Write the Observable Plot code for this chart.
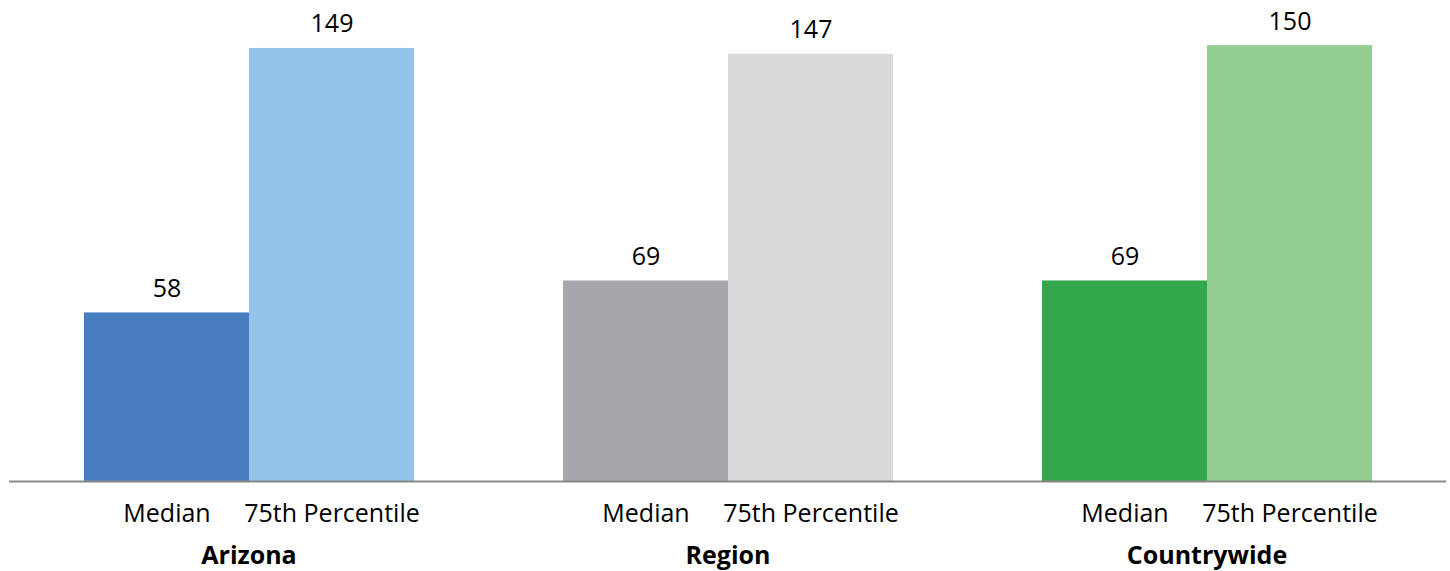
<!DOCTYPE html>
<html>
<head>
<meta charset="utf-8">
<script src="https://cdn.jsdelivr.net/npm/d3@7"></script>
<script src="https://cdn.jsdelivr.net/npm/@observablehq/plot@0.6"></script>
<style>
  html, body { margin: 0; padding: 0; background: #fff; }
</style>
</head>
<body>
<div id="chart"></div>
<script>
const groups = ["Arizona", "Region", "Countrywide"];
const series = ["Median", "75th Percentile"];
const medianValues = [58, 69, 69];
const p75Values = [149, 147, 150];
const barColors = ["#477ec0", "#93c3e8", "#a6a7aa", "#d8d9db", "#32a84a", "#93cd92"];

const data = [];
groups.forEach((g, i) => {
  data.push({group: g, series: series[0], value: medianValues[i]});
  data.push({group: g, series: series[1], value: p75Values[i]});
});
const keys = data.map(d => d.group + "|" + d.series);

const font = "'Open Sans', sans-serif";
const chart = Plot.plot({
  width: 1450,
  height: 571,
  marginLeft: 9,
  marginRight: 4,
  marginTop: 16,
  marginBottom: 90,
  style: {fontFamily: font, fontSize: "25px", background: "#fff", color: "#000"},
  fx: {domain: groups, padding: 0},
  x: {domain: series, paddingInner: 0, paddingOuter: 0.447},
  y: {domain: [0, 160], axis: null},
  color: {type: "ordinal", domain: keys, range: barColors},
  marks: [
    Plot.barY(data, {fx: "group", x: "series", y: "value", fill: d => d.group + "|" + d.series}),
    Plot.ruleY([0], {stroke: "#878787", strokeWidth: 2}),
    Plot.text(data, {fx: "group", x: "series", y: "value", text: d => String(d.value), dy: -24, fontSize: 25, fill: "#000"}),
    Plot.axisX({tickSize: 0, tickPadding: 23, fontSize: 25, label: null, fill: "#000"}),
    Plot.axisFx({anchor: "bottom", tickSize: 0, tickPadding: 65, fontSize: 25, fontWeight: "bold", label: null, fill: "#000"})
  ]
});
document.getElementById("chart").appendChild(chart);
</script>
</body>
</html>
